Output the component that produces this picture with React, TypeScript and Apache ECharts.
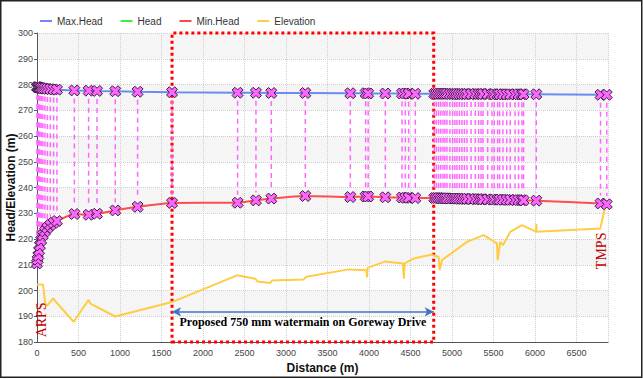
import React, { useEffect, useRef } from "react";
import * as echarts from "echarts";

// Node distances (m)
const nodeX = [
  0, 8, 16, 25, 35, 50, 70, 95, 125, 160, 200, 240, 450, 622, 723, 943, 1212, 1627,
  2417, 2638, 2823, 3233, 3775, 3960, 3990, 4197, 4398, 4438, 4478, 4558,
  4787, 4812, 4839, 4865, 4892, 4915, 4940, 4975, 5008, 5035, 5060, 5090, 5120, 5150,
  5181, 5230, 5281, 5321, 5350, 5374, 5430, 5482, 5510, 5550, 5574, 5614, 5660, 5702,
  5760, 5802, 5843, 5863, 6016, 6790, 6865,
];
const maxHead = [
  279.0, 278.9, 278.9, 278.8, 278.7, 278.6, 278.5, 278.4, 278.3, 278.2, 278.1, 278.0, 277.7, 277.6, 277.5, 277.4, 277.2, 277.0,
  276.8, 276.8, 276.7, 276.7, 276.6, 276.6, 276.5, 276.5, 276.5, 276.5, 276.4, 276.4,
  276.4, 276.4, 276.4, 276.4, 276.4, 276.4, 276.4, 276.3, 276.3, 276.3, 276.3, 276.3, 276.3, 276.3,
  276.3, 276.3, 276.3, 276.3, 276.3, 276.3, 276.3, 276.2, 276.2, 276.2, 276.2, 276.2, 276.2, 276.2,
  276.2, 276.2, 276.2, 276.2, 276.2, 276.0, 276.0,
];
const minHead = [
  210.5, 212.0, 213.5, 215.5, 217.5, 219.5, 221.5, 223.0, 224.3, 225.4, 226.3, 227.0, 229.7, 229.4, 229.8, 231.1, 232.5, 234.0,
  234.1, 235.0, 235.7, 236.7, 236.3, 236.5, 236.5, 236.2, 236.1, 236.0, 236.0, 235.9,
  235.9, 235.9, 235.9, 235.8, 235.8, 235.8, 235.8, 235.7, 235.7, 235.7, 235.7, 235.6, 235.6, 235.6,
  235.6, 235.5, 235.5, 235.5, 235.4, 235.4, 235.4, 235.3, 235.3, 235.3, 235.3, 235.2, 235.2, 235.2,
  235.1, 235.1, 235.1, 235.0, 234.9, 233.8, 233.5,
];

// Ground elevation profile
const elevX = [
  0, 72, 100, 120, 193, 441, 622, 642, 943, 1627, 2410, 2630, 2658, 2811, 2831, 3212, 3245,
  3755, 3970, 3976, 3984, 4197, 4410, 4420, 4430, 4538, 4759, 4779, 4839, 4851, 4880,
  5181, 5381, 5542, 5550, 5582, 5614, 5702, 5843, 6016, 6017, 6018, 6787, 6850,
];
const elevY = [
  202.3, 202.3, 195.0, 194.0, 196.9, 187.8, 196.4, 194.9, 189.9, 195.5, 205.9, 204.6, 203.5, 202.9, 203.9, 204.3, 205.3,
  208.2, 207.9, 205.1, 208.8, 211.3, 210.5, 204.6, 210.5, 212.4, 214.0, 213.6, 213.1, 207.9, 211.8,
  218.9, 221.5, 218.3, 211.8, 218.9, 217.6, 222.8, 225.4, 222.8, 225.8, 222.8, 224.1, 233.2,
];

const seriesNames = ["Max.Head", "Head", "Min.Head", "Elevation"];
const legendColors = ["#8080ff", "#40ee40", "#ff4848", "#ffcc44"];
const proposedRange = [1627, 4780];
const proposedLabel = "Proposed 750 mm watermain on Goreway Drive";
const stations = [
  { name: "ARPS", x: 60, y: 188.6 },
  { name: "TMPS", x: 6807, y: 215.4 },
];

const X_SYMBOL = "path://M3,0 L6,3 L9,0 L12,3 L9,6 L12,9 L9,12 L6,9 L3,12 L0,9 L3,6 L0,3 Z";

export default function App() {
  const ref = useRef<HTMLDivElement>(null);
  useEffect(() => {
    document.body.style.margin = "0";
    const chart = echarts.init(ref.current!, null, { renderer: "svg" });
    const maxData = nodeX.map((x, i) => [x, maxHead[i]]);
    const minData = nodeX.map((x, i) => [x, minHead[i]]);
    const rangeData = nodeX.map((x, i) => [x, minHead[i], maxHead[i]]);
    const elevData = elevX.map((x, i) => [x, elevY[i]]);
    const markerStyle = { color: "#ff66ff", borderColor: "#3a2040", borderWidth: 1 };
    const font = "Liberation Sans";
    chart.setOption({
      animation: false,
      backgroundColor: "#ffffff",
      graphic: [
        {
          type: "rect",
          shape: { x: 0.75, y: 0.75, width: 641, height: 376.5 },
          style: { fill: "none", stroke: "#222", lineWidth: 1.5 },
          z: 100,
        },
      ],
      legend: {
        data: seriesNames.map((n, i) => ({
          name: n,
          itemStyle: { color: legendColors[i], borderWidth: 0 },
        })),
        left: 35,
        top: 11,
        icon: "rect",
        itemWidth: 12,
        itemHeight: 2,
        itemGap: 18,
        textStyle: { fontFamily: font, fontSize: 10, color: "#333" },
      },
      grid: { left: 37, top: 33, right: 35, bottom: 37, containLabel: false, outerBoundsMode: "none" },
      xAxis: {
        type: "value",
        min: 0,
        max: 6880,
        interval: 500,
        name: "Distance (m)",
        nameLocation: "middle",
        nameGap: 20,
        nameMoveOverlap: false,
        nameTextStyle: { fontFamily: font, fontSize: 12, fontWeight: "bold", color: "#111" },
        axisLine: { show: true, lineStyle: { color: "#555", width: 1 } },
        axisTick: { show: false },
        axisLabel: {
          fontFamily: font,
          fontSize: 9,
          color: "#444",
          margin: 6,
          showMaxLabel: false,
          formatter: (v: number) => String(v),
        },
        splitLine: { show: true, lineStyle: { color: "#cfcfcf", type: "dotted" } },
      },
      yAxis: {
        type: "value",
        min: 180,
        max: 300,
        interval: 10,
        name: "Head/Elevation (m)",
        nameLocation: "middle",
        nameGap: 20,
        nameMoveOverlap: false,
        nameTextStyle: { fontFamily: font, fontSize: 12, fontWeight: "bold", color: "#111" },
        axisLine: { show: true, lineStyle: { color: "#555", width: 1 } },
        axisTick: { show: true, length: 3, lineStyle: { color: "#555" } },
        axisLabel: { fontFamily: font, fontSize: 9, color: "#444", margin: 4, formatter: (v: number) => String(v) },
        splitLine: { show: true, lineStyle: { color: "#cfcfcf", type: "dotted" } },
        splitArea: { show: true, areaStyle: { color: ["#ffffff", "#f5f5f5"] } },
      },
      series: [
        {
          type: "custom",
          name: "range",
          data: rangeData,
          z: 1,
          renderItem: (params: any, api: any) => {
            const top = api.coord([api.value(0), api.value(2)]);
            const bot = api.coord([api.value(0), api.value(1)]);
            return {
              type: "line",
              shape: { x1: top[0], y1: top[1] + 8, x2: top[0], y2: bot[1] - 8 },
              style: { stroke: "#ff66ff", lineWidth: 1.5, lineDash: [5, 4] },
            };
          },
        },
        {
          type: "line",
          name: "Max.Head",
          data: maxData,
          color: "#6a8cf0",
          lineStyle: { width: 2, color: "#6a8cf0" },
          symbol: X_SYMBOL,
          symbolSize: 11,
          showSymbol: true,
          itemStyle: markerStyle,
          z: 3,
        },
        {
          type: "line",
          name: "Head",
          data: [],
          color: "#40ee40",
          lineStyle: { width: 2, color: "#40ee40" },
        },
        {
          type: "line",
          name: "Min.Head",
          data: minData,
          color: "#ff4d4d",
          smooth: 0.2,
          lineStyle: { width: 2, color: "#ff4d4d" },
          symbol: X_SYMBOL,
          symbolSize: 11,
          showSymbol: true,
          itemStyle: markerStyle,
          z: 3,
        },
        {
          type: "line",
          name: "Elevation",
          data: elevData,
          color: "#ffcc44",
          lineStyle: { width: 2, color: "#ffcc44" },
          showSymbol: false,
          symbol: "none",
          z: 2,
          markArea: {
            silent: true,
            itemStyle: {
              color: "rgba(0,0,0,0)",
              borderColor: "#ff0000",
              borderWidth: 3,
              borderType: "dotted",
            },
            data: [[{ coord: [proposedRange[0], 180] }, { coord: [proposedRange[1], 300] }]],
          },
          markLine: {
            silent: true,
            symbol: ["arrow", "arrow"],
            symbolSize: [7, 9],
            lineStyle: { color: "#4472c4", width: 1.5, type: "solid" },
            label: {
              show: true,
              position: "insideMiddleBottom",
              formatter: proposedLabel,
              fontFamily: "Liberation Serif",
              fontWeight: "bold",
              fontSize: 12,
              color: "#000",
              distance: 4,
            },
            data: [[{ coord: [proposedRange[0], 191.7] }, { coord: [proposedRange[1], 191.7] }]],
          },
          markPoint: {
            silent: true,
            symbol: "circle",
            symbolSize: 1,
            itemStyle: { color: "rgba(0,0,0,0)" },
            label: {
              show: true,
              position: "inside",
              rotate: 90,
              formatter: "{b}",
              fontFamily: "Liberation Serif",
              fontSize: 14,
              color: "#c00000",
            },
            data: stations.map((s) => ({ name: s.name, coord: [s.x, s.y] })),
          },
        },
      ],
    });
    return () => chart.dispose();
  }, []);
  return (
    <div
      ref={ref}
      style={{ position: "fixed", left: 0, top: 0, width: 643, height: 379 }}
    />
  );
}
